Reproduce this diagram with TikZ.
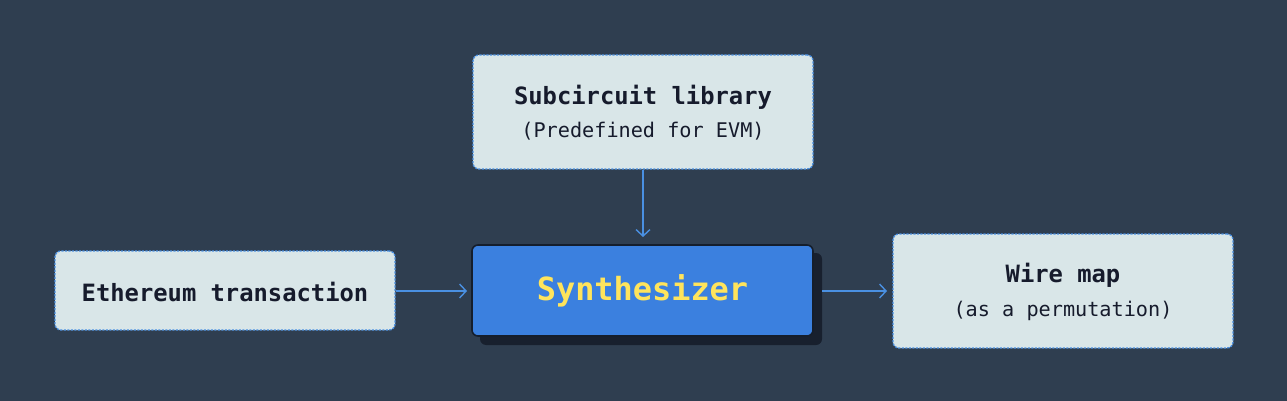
\documentclass[tikz,border=0pt]{standalone}
\usepackage{fontspec}
\setmonofont{DejaVu Sans Mono}
\usetikzlibrary{arrows.meta}
\definecolor{bg}{HTML}{2F3E50}
\definecolor{boxfill}{HTML}{D9E6E8}
\definecolor{dashblue}{HTML}{4A90E2}
\definecolor{synfill}{HTML}{3B80DF}
\definecolor{synborder}{HTML}{151E2C}
\definecolor{shadowc}{HTML}{18202E}
\definecolor{txtdark}{HTML}{161B2C}
\definecolor{txtyellow}{HTML}{FFE45C}
\tikzset{
  litebox/.style={draw=dashblue, fill=boxfill, line width=1.3pt, dash pattern=on 2.2pt off 1.3pt, rounded corners=6pt, text=txtdark, align=center, inner sep=0pt},
  synbox/.style={draw=synborder, fill=synfill, line width=1.6pt, rounded corners=6pt, inner sep=0pt},
  conn/.style={draw=dashblue, line width=1.4pt, -{Straight Barb[length=6.5pt,width=14pt,line width=1.4pt]}},
  ttl/.style={font=\ttfamily\bfseries\fontsize{23.8}{27}\selectfont, text=txtdark},
  sub/.style={font=\ttfamily\fontsize{20.2}{23}\selectfont, text=txtdark},
}
\begin{document}
\begin{tikzpicture}[x=1pt,y=-1pt]
\fill[bg] (0,0) rectangle (1287,401);
\useasboundingbox (0,0) rectangle (1287,401);
% top box
\node[litebox, minimum width=340pt, minimum height=114pt] (lib) at (643,112) {};
\node[ttl] (libt) at (643,97) {Subcircuit library};
\node[sub] (libs) at (643,131) {(Predefined for EVM)};
% synthesizer shadow and box
\fill[shadowc, rounded corners=6pt] (480,253) rectangle (822,345);
\node[synbox, minimum width=341pt, minimum height=91pt] (syn) at (642.5,290.5) {};
\node[font=\ttfamily\bfseries\fontsize{31.9}{35}\selectfont, text=txtyellow] (synt) at (642.5,291) {Synthesizer};
% left box
\node[litebox, minimum width=340pt, minimum height=79pt] (eth) at (225,290.5) {};
\node[ttl] (etht) at (225,292) {Ethereum transaction};
% right box
\node[litebox, minimum width=340pt, minimum height=114pt] (wire) at (1063,291) {};
\node[ttl] (wiret) at (1063,275) {Wire map};
\node[sub] (wires) at (1063,311) {(as a permutation)};
% connectors
\coordinate (syntop) at (643,237);
\coordinate (synleft) at (467,291);
\coordinate (synright) at (822,291);
\coordinate (wireleft) at (887,291);
\draw[conn] (lib.south) -- (syntop);
\draw[conn] (eth.east |- synleft) -- (synleft);
\draw[conn] (synright) -- (wireleft);
\end{tikzpicture}
\end{document}
